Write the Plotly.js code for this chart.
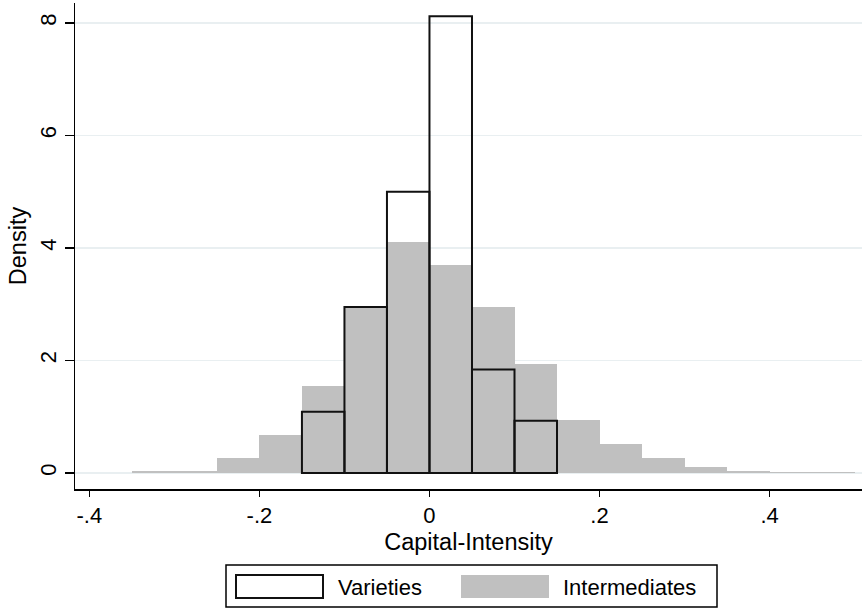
<!DOCTYPE html>
<html>
<head>
<meta charset="utf-8">
<script src="https://cdn.plot.ly/plotly-3.0.1.min.js"></script>
<style>html,body{margin:0;padding:0;background:#fff;}#chart{width:864px;height:610px;}</style>
</head>
<body>
<div id="chart"></div>
<script>
// Data (bin width 0.05)
const binWidth = 0.05;
const intermediatesLeft = [-0.35,-0.30,-0.25,-0.20,-0.15,-0.10,-0.05,0.00,0.05,0.10,0.15,0.20,0.25,0.30,0.35,0.40,0.45];
const intermediatesDensity = [0.03,0.03,0.26,0.68,1.55,2.95,4.11,3.70,2.95,1.94,0.95,0.52,0.26,0.11,0.04,0.015,0.015];
const varietiesLeft = [-0.15,-0.10,-0.05,0.00,0.05,0.10];
const varietiesDensity = [1.09,2.95,5.00,8.12,1.84,0.93];
const xTickVals = [-0.4,-0.2,0,0.2,0.4];
const xTickText = ["-.4","-.2","0",".2",".4"];
const yTickVals = [0,2,4,6,8];
const yTickText = ["0","2","4","6","8"];
const seriesNames = ["Varieties","Intermediates"];

const FONT = "Liberation Sans, Arial, sans-serif";

const traces = [
  {
    type: "bar",
    name: seriesNames[1],
    x: intermediatesLeft.map(v => v + binWidth/2),
    y: intermediatesDensity,
    width: binWidth,
    marker: {color: "#c0c0c0", line: {width: 0}},
    showlegend: false,
    hoverinfo: "x+y"
  },
  {
    type: "bar",
    name: seriesNames[0],
    x: varietiesLeft.map(v => v + binWidth/2),
    y: varietiesDensity,
    width: binWidth,
    marker: {color: "rgba(0,0,0,0)", line: {color: "#111", width: 2}},
    showlegend: false,
    hoverinfo: "x+y"
  }
];

const layout = {
  width: 864,
  height: 610,
  margin: {l: 75, r: 2, t: 3, b: 121},
  paper_bgcolor: "#fff",
  plot_bgcolor: "#fff",
  barmode: "overlay",
  bargap: 0,
  font: {family: FONT, size: 22, color: "#000"},
  xaxis: {
    range: [-0.4169, 0.5087],
    tickvals: xTickVals,
    ticktext: xTickText,
    ticks: "outside",
    ticklen: 6,
    tickwidth: 1.5,
    tickcolor: "#000",
    showline: true,
    linecolor: "#000",
    linewidth: 1.5,
    showgrid: false,
    zeroline: false,
    tickfont: {family: FONT, size: 22},
    title: {text: "Capital-Intensity", font: {family: FONT, size: 23.5}, standoff: 6}
  },
  yaxis: {
    range: [-0.284, 8.355],
    tickvals: yTickVals,
    ticktext: yTickText,
    tickangle: -90,
    ticks: "outside",
    ticklen: 9,
    tickwidth: 1.5,
    tickcolor: "#000",
    showline: true,
    linecolor: "#000",
    linewidth: 1.5,
    showgrid: true,
    gridcolor: "#e9eff1",
    gridwidth: 1.5,
    zeroline: false,
    tickfont: {family: FONT, size: 22},
    title: {text: "Density", font: {family: FONT, size: 23.5}, standoff: 2}
  },
  shapes: [
    // legend frame
    {type: "rect", xref: "paper", yref: "paper",
     x0: (226-75)/787, x1: (717-75)/787, y0: -(607-489)/486, y1: -(565-489)/486,
     line: {color: "#000", width: 1.5}, fillcolor: "#fff"},
    // Varieties key
    {type: "rect", xref: "paper", yref: "paper",
     x0: (236-75)/787, x1: (323-75)/787, y0: -(598-489)/486, y1: -(575-489)/486,
     line: {color: "#111", width: 2}, fillcolor: "rgba(0,0,0,0)"},
    // Intermediates key
    {type: "rect", xref: "paper", yref: "paper",
     x0: (461-75)/787, x1: (549-75)/787, y0: -(598-489)/486, y1: -(575-489)/486,
     line: {width: 0}, fillcolor: "#c0c0c0"}
  ],
  annotations: [
    {xref: "paper", yref: "paper", x: (336-75)/787, y: -(587-489)/486,
     xanchor: "left", yanchor: "middle", showarrow: false,
     text: seriesNames[0], font: {family: FONT, size: 22}},
    {xref: "paper", yref: "paper", x: (561-75)/787, y: -(587-489)/486,
     xanchor: "left", yanchor: "middle", showarrow: false,
     text: seriesNames[1], font: {family: FONT, size: 22}}
  ]
};

Plotly.newPlot("chart", traces, layout, {displayModeBar: false, staticPlot: true});
</script>
</body>
</html>
